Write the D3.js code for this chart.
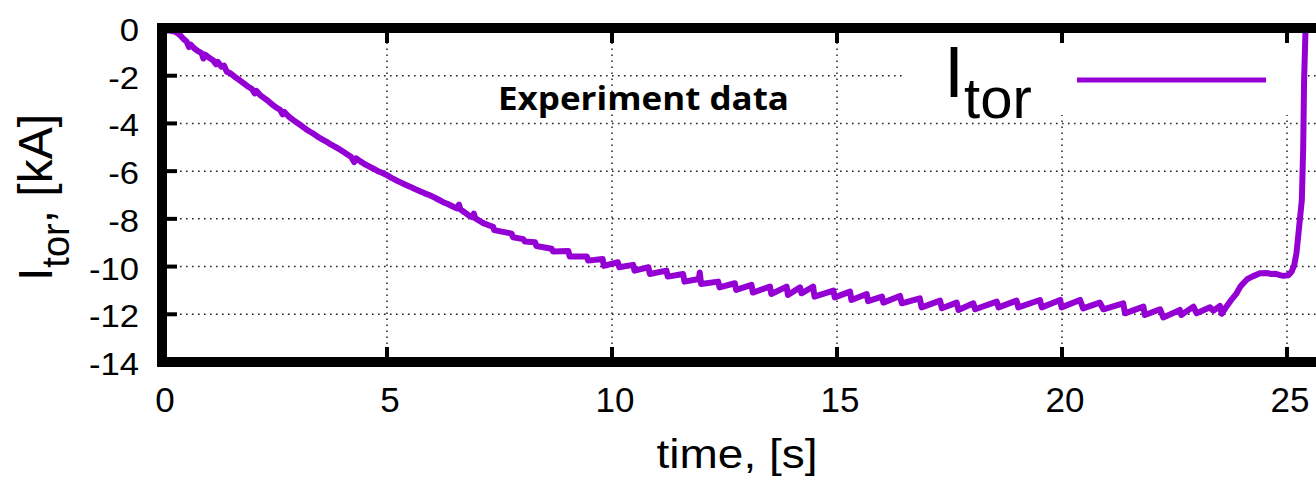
<!DOCTYPE html>
<html><head><meta charset="utf-8">
<script src="https://cdn.jsdelivr.net/npm/d3@7"></script>
<style>body{margin:0;background:#fff}svg{display:block}</style>
</head><body>
<svg id="c" width="1316" height="478"></svg>
<script>
const xTicks = [0, 5, 10, 15, 20, 25];
const yTicks = [0, -2, -4, -6, -8, -10, -12, -14];
const xTitle = "time, [s]";
const yTitleMain = "I", yTitleSub = "tor", yTitleUnit = ", [kA]";
const legendMain = "I", legendSub = "tor";
const annotation = "Experiment data";

const timeS = [
 0.00,0.15,0.30,0.40,0.48,0.55,0.60,0.64,0.72,0.80,0.88,0.92,0.96,1.05,1.14,1.20,1.24,1.32,1.38,1.44,
 1.52,1.62,1.72,1.81,1.90,2.00,2.06,2.10,2.18,2.28,2.37,2.46,2.55,2.62,2.68,2.72,2.82,2.92,3.01,3.10,
 3.20,3.29,3.38,3.47,3.56,3.66,3.75,3.85,3.94,4.03,4.12,4.20,4.27,4.31,4.40,4.50,4.60,4.70,4.80,4.90,
 4.99,5.10,5.20,5.30,5.40,5.51,5.62,5.73,5.84,5.95,6.05,6.15,6.25,6.35,6.45,6.55,6.60,6.63,6.72,6.82,
 6.90,6.93,6.96,7.05,7.14,7.25,7.36,7.38,
 7.77,7.80,8.03,8.06,8.29,8.32,8.66,8.69,9.03,9.06,9.44,9.47,9.79,9.82,10.13,10.16,10.47,10.50,
 10.81,10.84,11.21,11.24,11.58,11.61,11.93,11.95,11.98,12.36,12.39,12.73,12.76,13.10,13.13,13.51,13.54,
 13.88,13.91,14.18,14.21,14.47,14.50,14.92,14.95,15.29,15.32,15.66,15.69,16.00,16.03,16.40,16.44,
 16.84,16.88,17.29,17.33,17.66,17.70,18.03,18.07,18.55,18.59,18.99,19.03,19.51,19.55,19.96,19.99,
 20.40,20.47,20.84,20.92,21.36,21.40,21.81,21.84,22.18,22.25,22.62,22.65,22.92,22.99,23.29,23.36,
 23.51,23.55,23.66,23.78,23.88,23.96,24.03,24.12,24.25,24.40,24.55,24.65,24.75,24.84,24.92,25.03,
 25.10,25.16,25.21,25.27,25.33,25.36,25.38,25.41,25.43
];
const itorKA = [
 -0.12,-0.10,-0.16,-0.30,-0.46,-0.58,-0.80,-0.70,-0.86,-0.97,-1.05,-1.28,-1.12,-1.25,-1.36,-1.52,-1.42,-1.62,-1.58,-1.83,
 -1.90,-2.05,-2.18,-2.31,-2.44,-2.56,-2.74,-2.64,-2.81,-2.95,-3.08,-3.22,-3.35,-3.42,-3.62,-3.52,-3.72,-3.86,-3.98,-4.10,
 -4.24,-4.35,-4.45,-4.57,-4.67,-4.77,-4.88,-4.98,-5.08,-5.19,-5.30,-5.40,-5.62,-5.46,-5.58,-5.70,-5.80,-5.90,-6.00,-6.08,
 -6.16,-6.28,-6.38,-6.47,-6.56,-6.65,-6.75,-6.84,-6.93,-7.01,-7.10,-7.20,-7.30,-7.38,-7.47,-7.56,-7.40,-7.60,-7.72,-7.86,
 -7.93,-7.78,-7.97,-8.08,-8.18,-8.26,-8.33,-8.47,
 -8.62,-8.77,-8.85,-8.95,-8.98,-9.14,-9.25,-9.37,-9.35,-9.58,-9.58,-9.75,-9.68,-9.97,-9.82,-10.03,-9.93,-10.17,
 -10.03,-10.31,-10.17,-10.42,-10.31,-10.63,-10.52,-10.25,-10.73,-10.63,-10.87,-10.70,-10.98,-10.77,-11.09,-10.84,-11.15,
 -10.84,-11.19,-10.87,-11.12,-10.84,-11.26,-11.01,-11.29,-11.05,-11.40,-11.15,-11.45,-11.26,-11.51,-11.23,-11.54,
 -11.33,-11.71,-11.43,-11.75,-11.51,-11.82,-11.54,-11.79,-11.47,-11.71,-11.43,-11.71,-11.40,-11.71,-11.40,-11.71,
 -11.40,-11.75,-11.51,-11.79,-11.54,-11.96,-11.68,-12.03,-11.79,-12.13,-11.82,-12.03,-11.68,-11.96,-11.71,-11.85,
 -11.65,-11.98,-11.66,-11.35,-11.12,-10.85,-10.70,-10.52,-10.40,-10.28,-10.27,-10.31,-10.30,-10.36,-10.39,-10.36,
 -10.22,-9.95,-9.44,-8.33,-7.21,-5.00,-2.18,-0.20,0.50
];

const svg = d3.select("#c");
const x = d3.scaleLinear().domain([0, 26]).range([162, 1332]);
const y = d3.scaleLinear().domain([-14, 0]).range([362, 28]);
const FONT = "'Liberation Sans', Arial, sans-serif";

// grid
const grid = svg.append("g").attr("stroke", "#222").attr("stroke-width", 1.5).attr("stroke-dasharray", "1.6,4.4");
grid.selectAll("line.gy").data(yTicks.filter(v => v > -14 && v < 0)).join("line")
  .attr("x1", x(0)).attr("x2", x(26)).attr("y1", d => y(d)).attr("y2", d => y(d));
grid.selectAll("line.gx").data(xTicks.filter(v => v > 0)).join("line")
  .attr("y1", y(-14)).attr("y2", y(0)).attr("x1", d => x(d)).attr("x2", d => x(d));

// legend box (opaque)
svg.append("rect").attr("x", 903).attr("y", 33).attr("width", 397).attr("height", 82).attr("fill", "#fff");

// data
svg.append("clipPath").attr("id", "clip").append("rect")
  .attr("x", x(0)).attr("y", y(0)).attr("width", x(26) - x(0)).attr("height", y(-14) - y(0));
const pts = timeS.map((t, i) => [t, itorKA[i]]);
svg.append("path").datum(pts).attr("clip-path", "url(#clip)")
  .attr("fill", "none").attr("stroke", "#9400d3").attr("stroke-width", 6)
  .attr("stroke-linejoin", "round").attr("stroke-linecap", "round")
  .attr("d", d3.line().x(d => x(d[0])).y(d => y(d[1])));

// ticks
const tk = svg.append("g").attr("stroke", "#000").attr("stroke-width", 4);
tk.selectAll("line.ty").data(yTicks.filter(v => v > -14 && v < 0)).join("line")
  .attr("x1", x(0)).attr("x2", x(0) + 15).attr("y1", d => y(d)).attr("y2", d => y(d));
tk.selectAll("line.tb").data(xTicks.filter(v => v > 0)).join("line")
  .attr("y1", y(-14)).attr("y2", y(-14) - 15).attr("x1", d => x(d)).attr("x2", d => x(d));
tk.selectAll("line.tt").data(xTicks.filter(v => v > 0)).join("line")
  .attr("y1", y(0)).attr("y2", y(0) + 15).attr("x1", d => x(d)).attr("x2", d => x(d));

// frame
svg.append("rect").attr("x", x(0)).attr("y", y(0)).attr("width", x(26) - x(0)).attr("height", y(-14) - y(0))
  .attr("fill", "none").attr("stroke", "#000").attr("stroke-width", 10);

// y tick labels
svg.selectAll("g.yl").data(yTicks).join("g")
  .attr("transform", d => `translate(139,${y(d) + 13}) scale(1.05,0.93)`)
  .append("text").attr("text-anchor", "end").attr("font-family", FONT).attr("font-size", 33)
  .attr("fill", "#000").text(d => d);

// x tick labels
svg.selectAll("text.xl").data(xTicks).join("text")
  .attr("x", d => x(d) + 3).attr("y", 412).attr("text-anchor", "middle")
  .attr("font-family", FONT).attr("font-size", 35).attr("fill", "#000").text(d => d);

// x title
svg.append("text").attr("x", 737).attr("y", 468).attr("text-anchor", "middle")
  .attr("font-family", FONT).attr("font-size", 40).attr("textLength", 161).attr("lengthAdjust", "spacingAndGlyphs")
  .text(xTitle);

// y title
const yt = svg.append("text").attr("transform", "translate(52,281) rotate(-90)")
  .attr("font-family", FONT).attr("font-size", 48).attr("fill", "#000");
yt.append("tspan").text(yTitleMain);
yt.append("tspan").attr("font-size", 38).attr("dy", 17).text(yTitleSub);
yt.append("tspan").attr("dy", -17).text(yTitleUnit);

// legend
const lg = svg.append("text").attr("x", 944).attr("y", 97).attr("font-family", FONT).attr("font-size", 72).attr("fill", "#000");
lg.append("tspan").text(legendMain);
lg.append("tspan").attr("font-size", 58).attr("dy", 21).text(legendSub);
svg.append("line").attr("x1", 1077).attr("x2", 1266).attr("y1", 80).attr("y2", 80)
  .attr("stroke", "#9400d3").attr("stroke-width", 5);

// annotation
svg.append("text").attr("x", 498).attr("y", 110).attr("font-family", "'Open Sans', Lato, sans-serif")
  .attr("font-weight", "bold").attr("font-size", 33).attr("textLength", 291).attr("lengthAdjust", "spacingAndGlyphs")
  .text(annotation);
</script>
</body></html>
